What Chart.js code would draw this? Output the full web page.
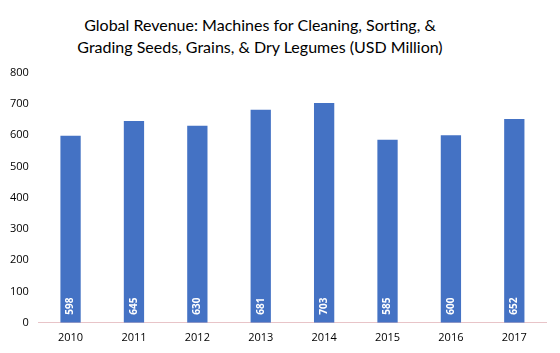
<!DOCTYPE html>
<html><head><meta charset="utf-8">
<script src="https://cdn.jsdelivr.net/npm/chart.js@4"></script>
<style>
html,body{margin:0;padding:0;background:#fff}
#title{position:absolute;left:0;top:0;width:520px;height:56px;text-align:center;font-family:Lato,"Open Sans",sans-serif;font-size:16px;line-height:22px;color:#000;padding-top:14px;box-sizing:border-box}
#wrap{position:absolute;left:0;top:56px;width:560px;height:297px}
</style>
</head><body>
<div id="title">Global Revenue: Machines for Cleaning, Sorting, &amp;<br>Grading Seeds, Grains, &amp; Dry Legumes (USD Million)</div>
<div id="wrap"><canvas id="c"></canvas></div>
<script>
const categories = ["2010","2011","2012","2013","2014","2015","2016","2017"];
const revenue = [598, 645, 630, 681, 703, 585, 600, 652];
const yTicks = [0,100,200,300,400,500,600,700,800];

const barLabels = {
  id: 'barLabels',
  afterDatasetsDraw(chart) {
    const ctx = chart.ctx;
    const meta = chart.getDatasetMeta(0);
    ctx.save();
    ctx.fillStyle = '#ffffff';
    ctx.font = 'bold 10px "Open Sans", sans-serif';
    meta.data.forEach((bar, i) => {
      ctx.save();
      ctx.translate(bar.x, bar.base - 8);
      ctx.rotate(-Math.PI / 2);
      ctx.textAlign = 'left';
      ctx.textBaseline = 'middle';
      ctx.fillText(String(revenue[i]), 0, 0);
      ctx.restore();
    });
    ctx.restore();
  }
};

new Chart(document.getElementById('c'), {
  type: 'bar',
  data: { labels: categories, datasets: [{ data: revenue, backgroundColor: '#4472C4', barPercentage: 0.32, categoryPercentage: 1 }] },
  plugins: [barLabels],
  options: {
    responsive: true, maintainAspectRatio: false, animation: false,
    layout: { padding: { left: 0, right: 14, top: 2, bottom: 1 } },
    plugins: { legend: { display: false }, tooltip: { enabled: false }, title: { display: false } },
    scales: {
      x: { grid: { display: false, drawTicks: false }, border: { color: '#e8c4c8' },
        ticks: { color: '#000', font: { family: '"Open Sans", sans-serif', size: 11 }, padding: 8 } },
      y: { min: 0, max: 800, afterBuildTicks: (s) => { s.ticks = yTicks.map(v => ({ value: v })); },
        grid: { display: false, drawTicks: false }, border: { display: false },
        ticks: { color: '#000', font: { family: '"Open Sans", sans-serif', size: 11 }, padding: 10 } }
    }
  }
});
</script></body></html>
